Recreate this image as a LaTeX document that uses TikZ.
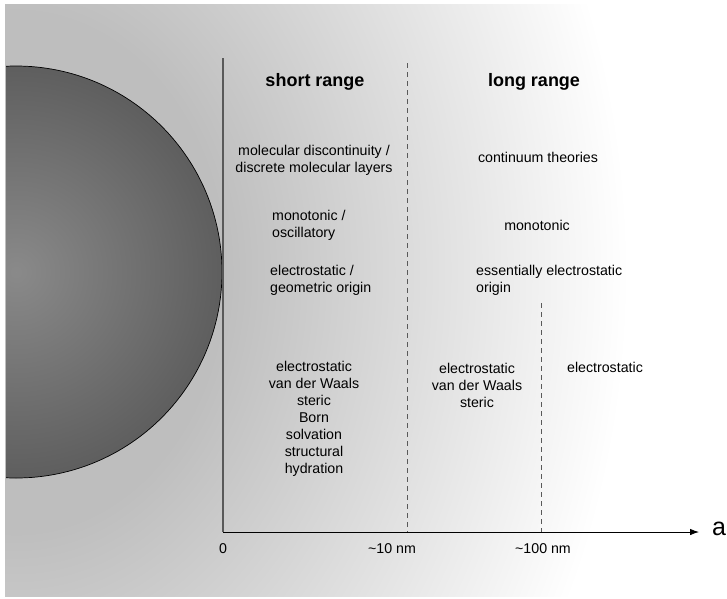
\documentclass[tikz,border=0pt]{standalone}
\usepackage{fontspec}
\setmainfont{Liberation Sans}
\usetikzlibrary{arrows.meta}
% colores
\definecolor{fondo}{gray}{0.745}
\definecolor{esferain}{gray}{0.54}
\definecolor{esferaout}{gray}{0.37}
\definecolor{trazo}{gray}{0.35}
% sombreados
\pgfdeclareradialshading{sombrafondo}{\pgfpoint{0bp}{0bp}}{color(0bp)=(fondo); color(8.3bp)=(fondo); color(24.5bp)=(white); color(25bp)=(white); color(50bp)=(white)}
\pgfdeclareradialshading{sombraesfera}{\pgfpoint{0bp}{0bp}}{color(0bp)=(esferain); color(25bp)=(esferaout); color(50bp)=(esferaout)}
\tikzset{
  texto/.style={font=\fontsize{14.2}{17}\selectfont, inner sep=0pt},
  titulo/.style={font=\fontsize{18}{21}\bfseries\selectfont, inner sep=0pt},
  limite/.style={trazo, line width=0.8pt, dash pattern=on 5pt off 4pt},
}
\begin{document}
\begin{tikzpicture}[x=1pt, y=-1pt]
  % parámetros
  \def\xo{223}   % origen
  \def\yo{532}   % eje
  \def\xa{407}   % ~10 nm
  \def\xb{541}   % ~100 nm
  \useasboundingbox (0,0) rectangle (727,598);

  %—————— fondo y esfera ——————————————————————————————————————
  \begin{scope}
    \clip (5,4) rectangle (727,596);
    \shade[shading=sombrafondo] (16,272) ellipse (625pt and 780pt);
    \clip (6,0) rectangle (727,598);
    \shade[shading=sombraesfera] (16,272) circle (206pt);
    \draw[black, line width=0.7pt] (16,272) circle (206pt);
  \end{scope}

  %—————— ejes ———————————————————————————————————————————————
  \coordinate (O)    at (\xo,\yo);
  \coordinate (ytop) at (\xo,58);
  \coordinate (xend) at (699,\yo);
  \draw[trazo, line width=1.1pt] (ytop) -- (O);
  \draw[line width=0.8pt, -{Latex[length=9pt,width=6.5pt]}] (O) -- (xend);
  \node[font=\fontsize{25}{25}\selectfont, inner sep=0pt] (a) at (719,529) {a};

  % líneas punteadas y etiquetas
  \coordinate (ltop) at (\xa,63);
  \coordinate (lbot) at (\xa,\yo);
  \coordinate (mtop) at (\xb,303);
  \coordinate (mbot) at (\xb,\yo);
  \draw[limite] (ltop) -- (lbot);
  \draw[limite] (mtop) -- (mbot);
  \node[texto] (t0)   at (\xo,549) {0};
  \node[texto] (t10)  at (392,549) {\textasciitilde10 nm};
  \node[texto] (t100) at (543,549) {\textasciitilde100 nm};

  %—————— textos ————————————————————————————————————————————
  \node[titulo] (corto) at (315,82) {short range};
  \node[titulo] (largo) at (534,82) {long range};

  \node[texto, align=center] (discont) at (314,160)
    {molecular discontinuity /\\discrete molecular layers};
  \node[texto] (continuo) at (538,157) {continuum theories};

  \node[texto, align=left, anchor=west] (osc) at (272,225.5)
    {monotonic /\\oscillatory};
  \node[texto] (mono) at (537,225) {monotonic};

  \node[texto, align=left, anchor=west] (origen) at (270,280.5)
    {electrostatic /\\geometric origin};
  \node[texto, align=left, anchor=west] (esencial) at (476,280.5)
    {essentially electrostatic\\origin};

  \node[texto, align=center] (fcorto) at (314,419)
    {electrostatic\\van der Waals\\steric\\Born\\solvation\\structural\\hydration};
  \node[texto, align=center] (fmedio) at (477,385)
    {electrostatic\\van der Waals\\steric};
  \node[texto] (flargo) at (605,367) {electrostatic};
\end{tikzpicture}
\end{document}
